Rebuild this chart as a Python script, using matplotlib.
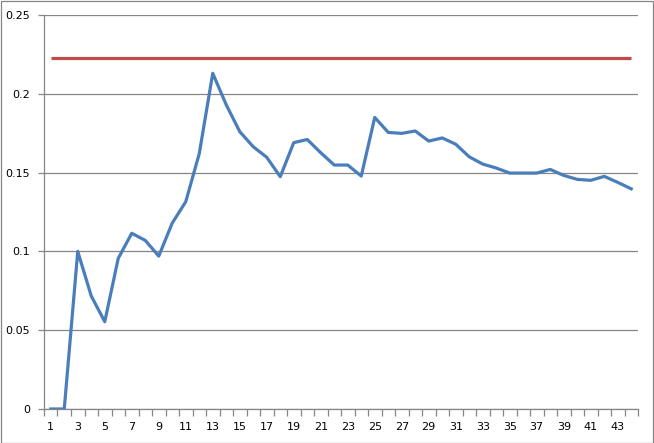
import matplotlib
matplotlib.use("Agg")
import matplotlib.pyplot as plt
from matplotlib.patches import Rectangle
from matplotlib.ticker import FixedLocator, FixedFormatter

categories = list(range(1, 45))
values = [0.0, 0.0, 0.100, 0.0717, 0.0554, 0.0956, 0.1115, 0.107, 0.097, 0.118,
          0.1315, 0.162, 0.213, 0.193, 0.176, 0.1664, 0.1597, 0.1474, 0.169, 0.171,
          0.1626, 0.1548, 0.1548, 0.1478, 0.185, 0.1755, 0.1749, 0.1764, 0.1700, 0.1720,
          0.168, 0.160, 0.1554, 0.1529, 0.1497, 0.1497, 0.1497, 0.152, 0.1482, 0.1457,
          0.1451, 0.1476, 0.1438, 0.1397]
threshold = [0.223] * len(categories)
y_ticks = [0, 0.05, 0.1, 0.15, 0.2, 0.25]
y_labels = ["0", "0.05", "0.1", "0.15", "0.2", "0.25"]

plt.rcParams['font.family'] = ['DejaVu Sans']

W, H = 654, 443
fig = plt.figure(figsize=(W / 100, H / 100), dpi=100)
ax = fig.add_axes([44 / W, (H - 409) / H, (638 - 44) / W, (409 - 15) / H])

grid_c = "#868686"
ax.plot(categories, threshold, color="#be4b48", lw=2.3, solid_capstyle="butt", zorder=3)
ax.plot(categories, values, color="#4a7ebb", lw=2.3, solid_joinstyle="round", zorder=4)

ax.set_xlim(0.5, 44.5)
ax.set_ylim(0, 0.25)
ax.set_yticks(y_ticks)
ax.set_yticklabels(y_labels)
ax.yaxis.grid(True, color=grid_c, lw=0.9)
ax.set_axisbelow(True)

odd = [c for c in categories if c % 2 == 1]
ax.xaxis.set_major_locator(FixedLocator(odd))
ax.xaxis.set_major_formatter(FixedFormatter([str(c) for c in odd]))
ax.xaxis.set_minor_locator(FixedLocator([c + 0.5 for c in [0] + categories]))
ax.tick_params(axis="x", which="major", length=0, pad=9, labelsize=8)
ax.tick_params(axis="x", which="minor", length=5, color=grid_c, width=0.9, direction="out")
ax.tick_params(axis="y", length=4, color=grid_c, width=0.9, direction="out", labelsize=8, pad=6)

for s in ["top", "right"]:
    ax.spines[s].set_visible(False)
for s in ["left", "bottom"]:
    ax.spines[s].set_color(grid_c)
    ax.spines[s].set_linewidth(0.9)

fig.patches.append(Rectangle((0.5 / W, 0.5 / H), (W - 1.5) / W, (H - 1.5) / H,
                             transform=fig.transFigure, fill=False, edgecolor=grid_c, lw=0.9))

fig.savefig("out.png", dpi=100)
